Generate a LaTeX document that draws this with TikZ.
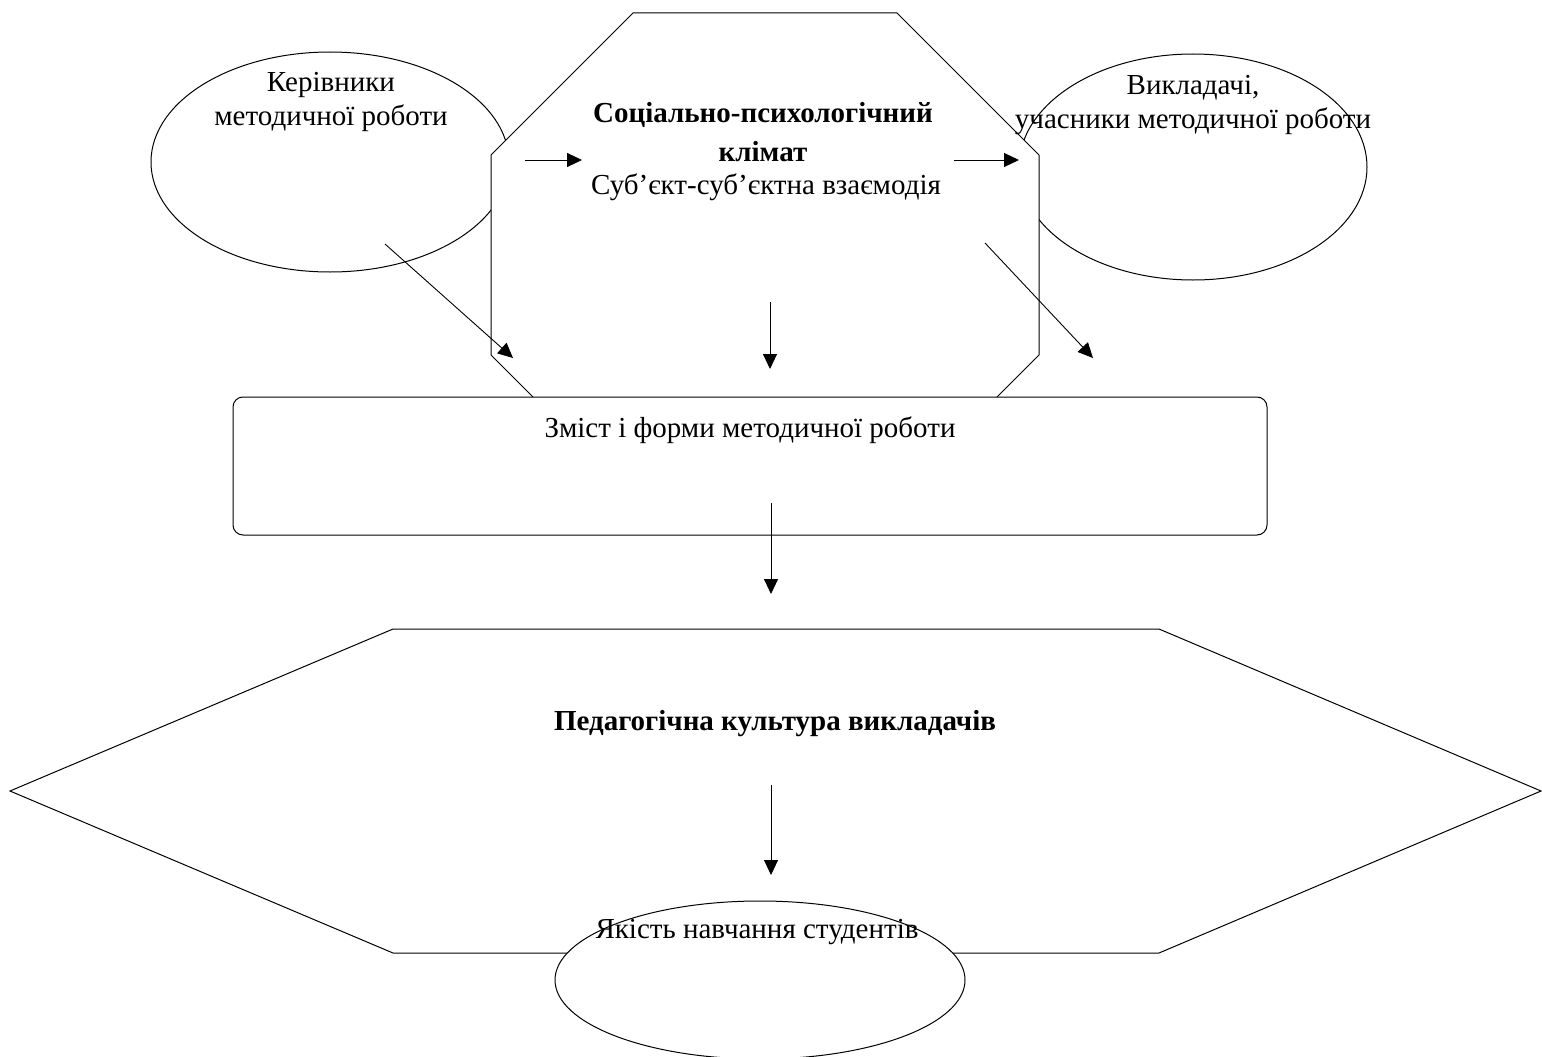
\documentclass[tikz,border=0pt]{standalone}
\usepackage{fontspec}
\setmainfont{Liberation Serif}
\usetikzlibrary{shapes.geometric,arrows.meta}
\begin{document}
\begin{tikzpicture}[x=1pt,y=-1pt,
  shapeline/.style={draw=black, line width=1pt, fill=white},
  oval/.style={shapeline, ellipse, inner sep=0pt},
  txt/.style={font=\fontsize{29}{34}\selectfont, align=center, inner sep=0pt, anchor=base},
  btxt/.style={txt, font=\fontsize{29}{34}\selectfont\bfseries},
  arr/.style={-{Triangle[length=15pt,width=14pt]}, line width=0.9pt}
]
\useasboundingbox (0,0) rectangle (1542,1057);
\fill[white] (0,0) rectangle (1542,1057);
% shapes
\node[oval, minimum width=358pt, minimum height=220pt] (lell) at (330,162) {};
\node[oval, minimum width=348pt, minimum height=226pt] (rell) at (1193,167) {};
\draw[shapeline] (633,13) -- (897,13) -- (1039,155) -- (1039,355) -- (897,497) -- (633,497) -- (491,355) -- (491,155) -- cycle;
\node[shapeline, rectangle, rounded corners=10pt, minimum width=1034pt, minimum height=138pt, inner sep=0pt] (rect) at (750,466) {};
\draw[shapeline] (393,629) -- (1159,629) -- (1541,791) -- (1159,953) -- (393,953) -- (10,791) -- cycle;
\node[oval, minimum width=410pt, minimum height=158pt] (bell) at (760,980) {};
% texts (base anchor = baseline of the last line)
\node[txt] (ker) at (331,125) {Керівники\\методичної роботи};
\node[txt] (vyk) at (1193,128) {Викладачі,\\учасники методичної роботи};
\node[btxt] (klim) at (763,161) {Соціально-психологічний\\[5pt]клімат};
\node[txt] (subj) at (766,194) {Суб’єкт-суб’єктна взаємодія};
\node[txt] (zmist) at (750,437) {Зміст і форми методичної роботи};
\node[btxt] (ped) at (775,730) {Педагогічна культура викладачів};
\node[txt] (yak) at (757,938) {Якість навчання студентів};
% arrow end points
\coordinate (a1s) at (525,160); \coordinate (a1e) at (582,160);
\coordinate (a2s) at (954,160); \coordinate (a2e) at (1019,160);
\coordinate (a3s) at (385,244); \coordinate (a3e) at (513,358);
\coordinate (a4s) at (985,243); \coordinate (a4e) at (1093,358);
\coordinate (a5s) at (770,302); \coordinate (a5e) at (770,369);
\coordinate (a6s) at (771,503); \coordinate (a6e) at (771,594);
\coordinate (a7s) at (771,785); \coordinate (a7e) at (771,875);
\draw[arr] (a1s) -- (a1e);
\draw[arr] (a2s) -- (a2e);
\draw[arr] (a3s) -- (a3e);
\draw[arr] (a4s) -- (a4e);
\draw[arr] (a5s) -- (a5e);
\draw[arr] (a6s) -- (a6e);
\draw[arr] (a7s) -- (a7e);
\end{tikzpicture}
\end{document}
